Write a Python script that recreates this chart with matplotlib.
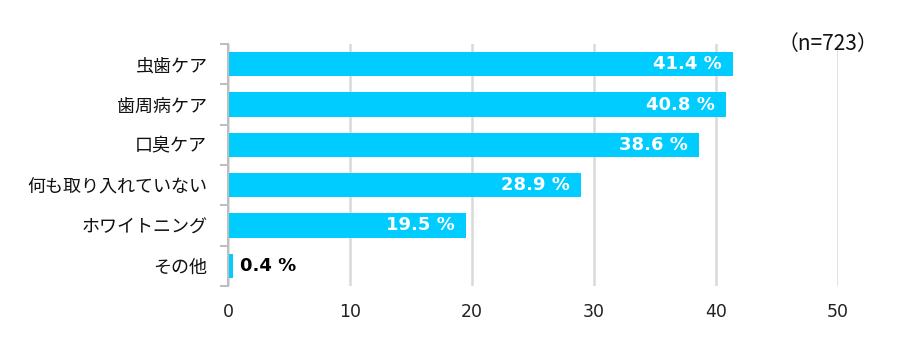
import matplotlib
matplotlib.use("Agg")
import matplotlib.pyplot as plt
from matplotlib.font_manager import FontProperties
import numpy as np

categories = ["虫歯ケア", "歯周病ケア", "口臭ケア", "何も取り入れていない", "ホワイトニング", "その他"]
values = [41.4, 40.8, 38.6, 28.9, 19.5, 0.4]
x_ticks = [0, 10, 20, 30, 40, 50]
sample_note = "（n=723）"

plt.rcParams['font.family'] = ['Noto Sans CJK JP', 'DejaVu Sans']

num_font = FontProperties(family="DejaVu Sans", size=12.5)
val_font = FontProperties(family="DejaVu Sans", weight="bold", size=13)

fig = plt.figure(figsize=(8.99, 3.5), dpi=100)
ax = fig.add_axes([228 / 899, 1 - 286 / 350, 610 / 899, 242 / 350])

bar_color = "#00CCFF"
grid_color = "#D9D9D9"

y = np.arange(len(categories))
ax.barh(y, values, height=0.6, color=bar_color, zorder=3)

ax.set_xlim(0, 50)
ax.set_ylim(len(categories) - 0.5, -0.5)
ax.set_xticks(x_ticks)
ax.set_xticklabels([str(t) for t in x_ticks], fontproperties=num_font, color="#222222")
ax.set_yticks(y)
ax.set_yticklabels(categories, fontsize=13, color="#111111")

# tick marks sit between the categories on the left spine
ax.set_yticks(np.arange(-0.5, len(categories)), minor=True)
ax.tick_params(axis='y', which='major', length=0, pad=15)
ax.tick_params(axis='y', which='minor', length=6, width=1.5, color="#BFBFBF")
ax.tick_params(axis='x', length=0, pad=12)

ax.xaxis.grid(True, color=grid_color, linewidth=1.8, zorder=0)
ax.set_axisbelow(True)
for side in ["top", "right", "bottom"]:
    ax.spines[side].set_visible(False)
ax.spines["left"].set_color("#BFBFBF")
ax.spines["left"].set_linewidth(1.5)
ax.spines["left"].set_zorder(4)

for yi, v in zip(y, values):
    label = f"{v:.1f} %"
    if v > 5:
        ax.annotate(label, (v, yi), xytext=(-8, 0), textcoords="offset points",
                    ha="right", va="center", color="white",
                    fontproperties=val_font, zorder=5)
    else:
        ax.annotate(label, (v, yi), xytext=(5, 0), textcoords="offset points",
                    ha="left", va="center", color="black",
                    fontproperties=val_font, zorder=5)

fig.text(878 / 899, 1 - 44 / 350, sample_note, ha="right", va="center",
         fontsize=15, color="#111111")

fig.savefig("out.png", dpi=100)
